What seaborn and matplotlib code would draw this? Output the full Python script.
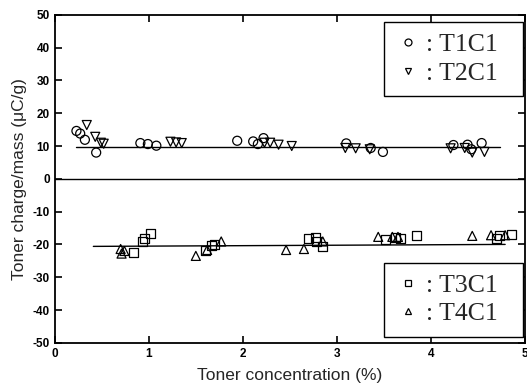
import matplotlib
matplotlib.use("Agg")
import matplotlib.pyplot as plt
import seaborn as sns
import pandas as pd
from matplotlib.lines import Line2D

# Data
t1_x = [0.23, 0.27, 0.32, 0.44, 0.91, 0.99, 1.08, 1.94, 2.11, 2.16, 2.22, 3.10, 3.36, 3.49, 4.24, 4.39, 4.43, 4.54]
t1_y = [14.6, 13.8, 11.9, 8.0, 10.9, 10.6, 10.1, 11.6, 11.4, 10.6, 12.4, 10.8, 9.4, 8.2, 10.3, 10.4, 9.0, 10.9]

t2_x = [0.34, 0.43, 0.49, 0.52, 1.23, 1.29, 1.35, 2.23, 2.29, 2.38, 2.52, 3.09, 3.20, 3.35, 4.21, 4.36, 4.44, 4.57]
t2_y = [16.4, 12.8, 11.0, 10.7, 11.3, 11.1, 10.9, 11.0, 11.0, 10.4, 10.0, 9.4, 9.3, 9.0, 9.3, 9.4, 8.0, 8.2]

t3_x = [0.84, 0.93, 0.95, 1.02, 1.60, 1.67, 1.70, 2.70, 2.77, 2.78, 2.85, 3.52, 3.62, 3.68, 3.85, 4.70, 4.73, 4.86]
t3_y = [-22.5, -19.1, -18.1, -16.7, -22.0, -20.4, -20.1, -18.1, -17.9, -19.1, -20.7, -18.4, -17.9, -18.1, -17.4, -18.1, -17.4, -16.9]

t4_x = [0.70, 0.71, 0.74, 1.50, 1.62, 1.77, 2.46, 2.65, 2.85, 3.44, 3.59, 3.65, 4.44, 4.64, 4.79]
t4_y = [-21.4, -22.8, -22.0, -23.5, -21.7, -19.1, -21.7, -21.4, -19.1, -17.7, -17.7, -17.7, -17.4, -17.2, -17.2]

fit_pos_x = [0.23, 4.74]
fit_pos_y = [9.8, 9.8]
fit_neg_x = [0.41, 4.79]
fit_neg_y = [-20.6, -20.0]

labels = ["T1C1", "T2C1", "T3C1", "T4C1"]
markers = ["o", "v", "s", "^"]
x_ticks = [0, 1, 2, 3, 4, 5]
y_ticks = [-50, -40, -30, -20, -10, 0, 10, 20, 30, 40, 50]

sns.set_theme(style="ticks")
plt.rcParams["font.family"] = ["Liberation Sans", "DejaVu Sans"]

fig = plt.figure(figsize=(5.27, 3.90), dpi=100)
ax = fig.add_axes([0.104, 0.121, 0.892, 0.841])

series = [(t1_x, t1_y), (t2_x, t2_y), (t3_x, t3_y), (t4_x, t4_y)]
for (xs, ys), lab, m in zip(series, labels, markers):
    df = pd.DataFrame({"x": xs, "y": ys})
    sns.scatterplot(data=df, x="x", y="y", marker=m, s=42, facecolors="none",
                    edgecolors="black", linewidth=0.9, ax=ax, legend=False)

sns.lineplot(x=fit_pos_x, y=fit_pos_y, color="black", linewidth=1.0, ax=ax)
sns.lineplot(x=fit_neg_x, y=fit_neg_y, color="black", linewidth=1.0, ax=ax)
ax.axhline(0, color="black", linewidth=1.0)

ax.set_xlim(0, 5)
ax.set_ylim(-50, 50)
ax.set_xticks(x_ticks)
ax.set_yticks(y_ticks)
ax.set_xticklabels([str(t) for t in x_ticks], fontsize=8.5, fontweight="bold")
ax.set_yticklabels([str(t) for t in y_ticks], fontsize=8.5, fontweight="bold")
ax.tick_params(direction="in", top=True, right=True, length=5, width=1.2, colors="black")
for sp in ax.spines.values():
    sp.set_linewidth(1.3)
    sp.set_color("black")

ax.set_xlabel("Toner concentration (%)", fontsize=12.5, labelpad=6)
ax.set_ylabel("Toner charge/mass (\u03bcC/g)", fontsize=12.5, labelpad=4)

def make_legend(idx, loc, loc_bbox):
    handles = [Line2D([], [], linestyle="none", marker=markers[i], markersize=5,
                      markerfacecolor="none", markeredgecolor="black", markeredgewidth=0.9,
                      label=": " + labels[i] + "  ") for i in idx]
    leg = ax.legend(handles=handles, loc=loc, bbox_to_anchor=loc_bbox,
                    bbox_transform=fig.transFigure,
                    prop={"family": ["Liberation Serif", "DejaVu Serif"], "size": 18.5},
                    frameon=True, fancybox=False, edgecolor="black", framealpha=1,
                    handlelength=1.0, handletextpad=0.2, borderpad=0.45,
                    labelspacing=0.2, borderaxespad=0)
    leg.get_frame().set_linewidth(1.0)
    return leg

leg1 = make_legend([0, 1], "upper right", (0.992, 0.944))
ax.add_artist(leg1)
make_legend([2, 3], "lower right", (0.992, 0.136))

fig.savefig("out.png", dpi=100)
